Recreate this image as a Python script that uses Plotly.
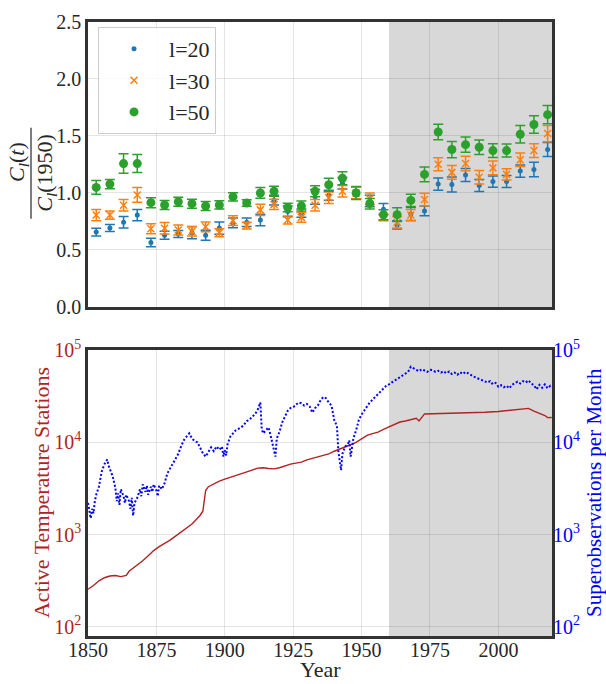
import plotly.graph_objects as go

# ---------------- correlation ratio, 5-year window centres ----------------
window_years = [1853, 1858, 1863, 1868, 1873, 1878, 1883, 1888, 1893, 1898,
                1903, 1908, 1913, 1918, 1923, 1928, 1933, 1938, 1943, 1948,
                1953, 1958, 1963, 1968, 1973, 1978, 1983, 1988, 1993, 1998,
                2003, 2008, 2013, 2018]

ratio_l20 = [0.657, 0.692, 0.743, 0.806, 0.566, 0.629, 0.640, 0.652, 0.629, 0.692,
             0.737, 0.743, 0.763, 0.937, 0.838, 0.823, 0.966, 0.980, 1.086, 1.000,
             0.930, 0.858, 0.720, 0.815, 0.843, 1.078, 1.075, 1.158, 1.066, 1.100,
             1.100, 1.192, 1.206, 1.381]
err_l20 = [0.034, 0.031, 0.050, 0.049, 0.037, 0.035, 0.031, 0.054, 0.044, 0.053,
           0.043, 0.037, 0.050, 0.043, 0.047, 0.036, 0.064, 0.043, 0.050, 0.050,
           0.050, 0.050, 0.036, 0.057, 0.043, 0.053, 0.066, 0.057, 0.053, 0.049,
           0.053, 0.053, 0.064, 0.061]

ratio_l30 = [0.806, 0.806, 0.892, 0.983, 0.686, 0.690, 0.675, 0.663, 0.703, 0.652,
             0.757, 0.714, 0.852, 0.900, 0.763, 0.786, 0.892, 0.958, 1.015, 1.000,
             0.950, 0.786, 0.743, 0.806, 0.943, 1.252, 1.181, 1.258, 1.138, 1.220,
             1.163, 1.292, 1.372, 1.521]
err_l30 = [0.049, 0.037, 0.051, 0.064, 0.043, 0.050, 0.043, 0.040, 0.043, 0.035,
           0.043, 0.029, 0.050, 0.046, 0.036, 0.043, 0.050, 0.050, 0.050, 0.050,
           0.050, 0.030, 0.050, 0.050, 0.054, 0.057, 0.060, 0.064, 0.060, 0.060,
           0.050, 0.059, 0.060, 0.071]

ratio_l50 = [1.049, 1.078, 1.258, 1.258, 0.915, 0.895, 0.923, 0.906, 0.886, 0.895,
             0.966, 0.912, 1.000, 1.015, 0.872, 0.886, 1.015, 1.072, 1.129, 1.000,
             0.906, 0.809, 0.810, 0.935, 1.163, 1.535, 1.381, 1.424, 1.401, 1.372,
             1.372, 1.515, 1.601, 1.687]
err_l50 = [0.060, 0.040, 0.086, 0.079, 0.044, 0.040, 0.039, 0.040, 0.039, 0.036,
           0.037, 0.029, 0.047, 0.043, 0.037, 0.043, 0.049, 0.057, 0.057, 0.057,
           0.046, 0.043, 0.060, 0.053, 0.064, 0.069, 0.071, 0.067, 0.063, 0.060,
           0.057, 0.076, 0.076, 0.080]

# ---------------- active temperature stations ----------------
station_years = [1850, 1852, 1854, 1856, 1858, 1860, 1862, 1864, 1865, 1866,
                 1868, 1870, 1872, 1874, 1876, 1878, 1880, 1882, 1884, 1886,
                 1888, 1890, 1891, 1892, 1892.5, 1893, 1894, 1896, 1898, 1900,
                 1902, 1904, 1906, 1908, 1910, 1912, 1914, 1916, 1918, 1920,
                 1922, 1924, 1926, 1928, 1930, 1932, 1934, 1936, 1938, 1940,
                 1942, 1944, 1946, 1948, 1950, 1952, 1954, 1956, 1958, 1960,
                 1962, 1964, 1966, 1968, 1970, 1971, 1972, 1973, 1976, 1980,
                 1985, 1990, 1995, 2000, 2004, 2008, 2011, 2013, 2015, 2017,
                 2018, 2019.5]
station_counts = [255, 280, 315, 340, 355, 360, 350, 360, 400, 420,
                  470, 520, 590, 670, 740, 800, 870, 960, 1060, 1160,
                  1300, 1500, 1620, 1800, 2200, 3000, 3300, 3550, 3800, 3980,
                  4150, 4350, 4550, 4750, 5000, 5250, 5300, 5200, 5150, 5300,
                  5550, 5800, 5950, 6100, 6450, 6700, 6900, 7100, 7500, 8000,
                  8400, 8900, 9400, 10000, 10900, 11900, 12400, 12900, 13800, 14700,
                  15900, 16600, 17000, 17500, 18200, 17000, 18500, 20300, 20400, 20500,
                  20700, 20900, 21200, 21600, 22300, 23000, 23300, 21800, 20700, 19500,
                  18500, 18600]

# ---------------- superobservations per month ----------------
superob_years = [1850, 1850.5, 1851, 1851.5, 1852, 1852.5, 1853, 1854, 1855, 1856,
                 1857, 1857.5, 1858, 1859, 1860, 1860.5, 1861, 1861.5, 1862, 1863,
                 1863.5, 1864, 1865, 1865.5, 1866, 1866.5, 1867, 1868, 1869, 1869.5,
                 1870, 1871, 1871.5, 1872, 1873, 1873.5, 1874, 1875, 1875.5, 1876,
                 1877, 1878, 1879, 1880, 1881, 1882, 1883, 1884, 1885, 1886,
                 1887, 1888, 1889, 1890, 1891, 1892, 1893, 1894, 1895, 1896,
                 1897, 1898, 1899, 1899.5, 1900, 1900.5, 1901, 1902, 1903, 1904,
                 1905, 1906, 1907, 1908, 1909, 1910, 1911, 1912, 1913, 1913.5,
                 1914, 1915, 1916, 1917, 1918, 1918.5, 1919, 1920, 1921, 1922,
                 1923, 1924, 1925, 1926, 1927, 1928, 1929, 1930, 1931, 1932,
                 1933, 1934, 1935, 1936, 1937, 1938, 1939, 1940, 1941, 1941.5,
                 1942, 1942.5, 1943, 1944, 1945, 1945.5, 1946, 1946.5, 1947, 1948,
                 1949, 1950, 1951, 1952, 1953, 1954, 1955, 1956, 1957, 1958,
                 1959, 1960, 1961, 1962, 1963, 1964, 1965, 1966, 1967, 1968,
                 1969, 1970, 1971, 1972, 1973, 1974, 1975, 1976, 1977, 1978,
                 1979, 1980, 1981, 1982, 1983, 1984, 1985, 1986, 1987, 1988,
                 1989, 1990, 1991, 1992, 1993, 1994, 1995, 1996, 1997, 1998,
                 1999, 2000, 2001, 2002, 2003, 2004, 2005, 2006, 2007, 2008,
                 2009, 2010, 2011, 2012, 2013, 2014, 2015, 2016, 2017, 2018,
                 2019, 2019.5]
superob_counts = [2200, 1800, 1500, 1900, 1700, 2300, 2700, 3300, 4800, 5800,
                  6500, 5600, 5200, 4300, 3200, 2300, 2800, 2100, 3100, 2600,
                  2200, 2700, 2300, 1900, 2500, 1600, 2200, 2500, 3100, 2600,
                  3500, 2900, 3400, 2700, 3300, 2900, 3500, 3000, 2600, 3400,
                  3100, 3600, 4600, 5200, 5800, 6500, 7500, 9000, 10500, 11500,
                  12500, 11000, 10300, 10000, 8800, 7600, 7000, 7800, 8800, 8000,
                  9000, 8300, 9000, 7000, 8200, 7200, 9500, 11500, 12500, 13500,
                  14000, 14500, 15500, 17000, 17500, 19000, 20000, 22500, 27000, 14000,
                  12500, 13500, 14500, 11000, 8500, 7000, 11000, 13000, 16500, 19500,
                  22000, 23500, 24000, 25500, 27000, 26500, 25000, 26000, 24500, 21000,
                  23500, 25000, 28500, 31000, 30000, 27000, 25000, 17500, 15000, 8000,
                  6500, 5000, 7500, 9000, 9500, 10500, 7000, 9000, 11000, 13500,
                  17500, 20000, 22500, 24500, 27000, 29000, 31000, 33500, 36000, 38500,
                  41000, 42500, 44500, 46000, 48000, 50500, 52500, 55000, 58000, 66000,
                  63000, 61000, 59000, 62000, 60000, 58000, 61000, 60500, 58000, 59500,
                  57000, 59000, 56000, 58500, 55000, 57000, 54000, 57500, 55000, 58000,
                  56000, 53500, 51500, 50000, 48500, 47000, 46000, 44500, 46000, 42500,
                  44000, 40000, 41500, 39500, 41000, 38500, 42000, 44000, 45500, 43500,
                  46000, 44500, 47000, 43500, 41500, 37500, 42000, 39000, 42500, 38500,
                  41000, 40000]

year_ticks = [1850, 1875, 1900, 1925, 1950, 1975, 2000]
ratio_ticks = [0.0, 0.5, 1.0, 1.5, 2.0, 2.5]
log_ticks = [100, 1000, 10000, 100000]
log_tick_text = ["10<sup>2</sup>", "10<sup>3</sup>", "10<sup>4</sup>", "10<sup>5</sup>"]

SERIF = "'Liberation Serif', 'Times New Roman', Times, serif"
C_BLUE, C_ORANGE, C_GREEN = "#1f77b4", "#ff7f0e", "#2ca02c"
C_RED, C_SUP = "#b22222", "#0000ff"
INK = "#262626"
GRID = "rgba(0,0,0,0.10)"
FRAME = "#333333"
X_RANGE = [1850, 2019.6]

fig = go.Figure()

def ratio_trace(y, err, color, name, marker):
    return go.Scatter(
        x=window_years, y=y, mode="markers", name=name,
        marker=marker,
        error_y=dict(type="data", array=err, visible=True,
                     color=color, thickness=1.5, width=5),
        xaxis="x", yaxis="y",
    )

fig.add_trace(ratio_trace(ratio_l20, err_l20, C_BLUE, "l=20",
                          dict(color=C_BLUE, size=5, symbol="circle")))
fig.add_trace(ratio_trace(ratio_l30, err_l30, C_ORANGE, "l=30",
                          dict(color=C_ORANGE, size=7, symbol="x-thin",
                               line=dict(color=C_ORANGE, width=1.5))))
fig.add_trace(ratio_trace(ratio_l50, err_l50, C_GREEN, "l=50",
                          dict(color=C_GREEN, size=9, symbol="circle")))

fig.add_trace(go.Scatter(
    x=station_years, y=station_counts, mode="lines",
    line=dict(color=C_RED, width=1.4), showlegend=False,
    xaxis="x2", yaxis="y2",
))
fig.add_trace(go.Scatter(
    x=superob_years, y=superob_counts, mode="lines",
    line=dict(color=C_SUP, width=2, dash="2px,2px"), showlegend=False,
    xaxis="x2", yaxis="y3",
))

# shaded period from 1960 onwards in both panels
for xr, yr in (("x", "y domain"), ("x2", "y2 domain")):
    fig.add_shape(type="rect", xref=xr, yref=yr, x0=1960, x1=X_RANGE[1],
                  y0=0, y1=1, fillcolor="#d8d8d8", line=dict(width=0),
                  layer="below")

def tick_font(color=INK):
    return dict(family=SERIF, size=20, color=color)

axis_common = dict(showline=True, linecolor=FRAME, linewidth=2.5, mirror=True,
                   gridcolor=GRID, gridwidth=1, zeroline=False, ticks="")

top_dom = [(636 - 300) / 627, 1.0]
bot_dom = [0.0, (636 - 344) / 627]

def px_x(px):
    return (px - 88) / 464

def px_y(py):
    return (636 - py) / 627

fig.update_layout(
    width=606, height=684,
    margin=dict(l=88, r=54, t=9, b=48),
    paper_bgcolor="white", plot_bgcolor="white",
    font=dict(family=SERIF, color=INK, size=20),
    xaxis=dict(domain=[0, 1], anchor="y", range=X_RANGE, tickvals=year_ticks,
               showticklabels=False, tickfont=tick_font(), **axis_common),
    yaxis=dict(domain=top_dom, anchor="x", range=[0, 2.5], tickvals=ratio_ticks,
               ticktext=[f"{v:.1f}" for v in ratio_ticks],
               tickfont=tick_font(), **axis_common),
    xaxis2=dict(domain=[0, 1], anchor="y2", range=X_RANGE, tickvals=year_ticks,
                ticktext=[str(v) for v in year_ticks],
                tickfont=tick_font(), ticklabelstandoff=-6, **axis_common),
    yaxis2=dict(domain=bot_dom, anchor="x2", type="log", range=[1.9, 5.0],
                tickvals=log_ticks, ticktext=log_tick_text,
                tickfont=tick_font(C_RED), **axis_common),
    yaxis3=dict(overlaying="y2", anchor="x2", side="right", type="log",
                range=[1.9, 5.0], tickvals=log_ticks, ticktext=log_tick_text,
                showgrid=False, zeroline=False, ticks="", showline=False,
                tickfont=tick_font(C_SUP)),
    legend=dict(x=0.0216, y=px_y(14), xanchor="left", yanchor="top",
                bgcolor="rgba(255,255,255,0.85)", bordercolor="#cccccc",
                borderwidth=1, font=dict(family=SERIF, size=22, color=INK),
                itemwidth=60, tracegroupgap=0),
    showlegend=True,
)

# fraction label for the upper panel
fig.add_annotation(text="<i>C<sub>l</sub></i>(<i>t</i>)", xref="paper", yref="paper",
                   x=px_x(18), y=px_y(152), textangle=-90, showarrow=False,
                   xanchor="center", yanchor="middle",
                   font=dict(family=SERIF, size=22, color=INK))
fig.add_shape(type="line", xref="paper", yref="paper",
              x0=px_x(31), x1=px_x(31), y0=px_y(117), y1=px_y(210),
              line=dict(color=INK, width=1.2))
fig.add_annotation(text="<i>C<sub>l</sub></i>(1950)", xref="paper", yref="paper",
                   x=px_x(46), y=px_y(163), textangle=-90, showarrow=False,
                   xanchor="center", yanchor="middle",
                   font=dict(family=SERIF, size=22, color=INK))

# axis titles of the lower panel
fig.add_annotation(text="Active Temperature Stations", xref="paper", yref="paper",
                   x=px_x(41), y=px_y(490), textangle=-90, showarrow=False,
                   xanchor="center", yanchor="middle",
                   font=dict(family=SERIF, size=22, color=C_RED))
fig.add_annotation(text="Superobservations per Month", xref="paper", yref="paper",
                   x=px_x(594), y=px_y(490), textangle=-90, showarrow=False,
                   xanchor="center", yanchor="middle",
                   font=dict(family=SERIF, size=21, color=C_SUP))
fig.add_annotation(text="Year", xref="paper", yref="paper",
                   x=0.5, y=px_y(670), showarrow=False,
                   xanchor="center", yanchor="middle",
                   font=dict(family=SERIF, size=22, color=INK))

fig.write_html("out.html")
